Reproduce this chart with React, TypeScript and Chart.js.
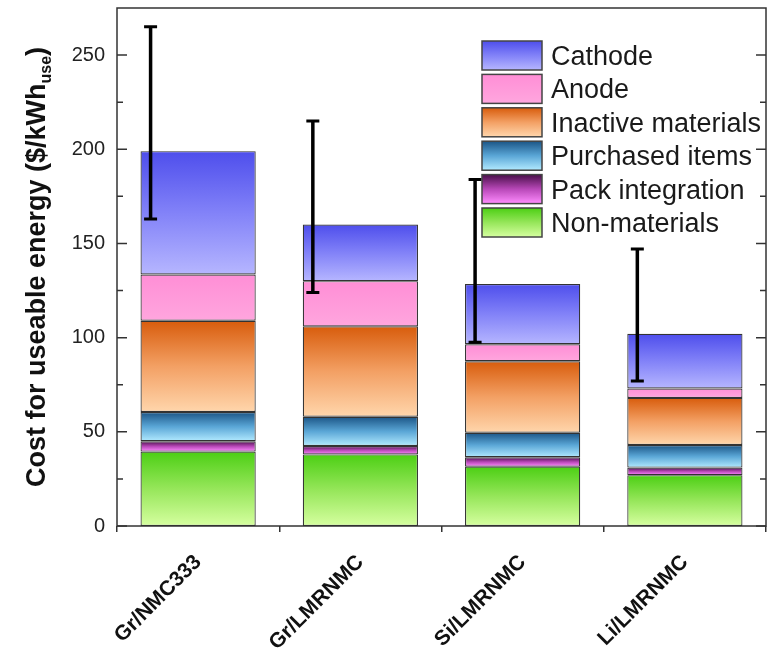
import React, { useEffect, useRef } from 'react';
import { Chart, registerables } from 'chart.js';

Chart.register(...registerables);

// ---------- data ----------
const categories = ['Gr/NMC333', 'Gr/LMRNMC', 'Si/LMRNMC', 'Li/LMRNMC'];
const nonMaterials = [39.5, 38, 31.5, 27];
const packIntegration = [5.5, 4.5, 5, 4];
const purchasedItems = [15.5, 15.5, 13, 12];
const inactiveMaterials = [48.5, 48, 38, 25];
const anode = [24.5, 24, 9, 5];
const cathode = [65.5, 30, 32, 29];
const errLow = [163, 124, 97.5, 77];
const errHigh = [265, 215, 184, 147];
const yTicks = [0, 50, 100, 150, 200, 250];
const yMinorTicks = [25, 75, 125, 175, 225];

// ---------- styles ----------
const FONT = '"Liberation Sans", Arial, Helvetica, sans-serif';
const GRADS: Record<string, string[]> = {
  nonMaterials: ['#4ccf14', '#96e65a', '#d6ffa0'],
  pack: ['#4a0f4a', '#b848b8', '#ff8cff'],
  purchased: ['#1b5586', '#5aa6d6', '#b2eaff'],
  inactive: ['#d85c0c', '#f3a064', '#ffd6ac'],
  anode: ['#ff8ed6', '#ffa6de'],
  cathode: ['#4e4eec', '#8282f8', '#b6b6ff'],
};

function makeGrad(c2d: CanvasRenderingContext2D, y0: number, y1: number, cols: string[]) {
  const g = c2d.createLinearGradient(0, y0, 0, y1);
  cols.forEach((c, k) => g.addColorStop(k / (cols.length - 1), c));
  return g;
}

function bg(key: string) {
  return (ctx: any) => {
    const cols = GRADS[key];
    if (ctx.type !== 'data') return cols[0];
    const chart = ctx.chart;
    const y = chart.scales && chart.scales.y;
    if (!y || !chart.chartArea) return cols[0];
    let start = 0;
    for (let d = 0; d < ctx.datasetIndex; d++) start += chart.data.datasets[d].data[ctx.dataIndex];
    const end = start + chart.data.datasets[ctx.datasetIndex].data[ctx.dataIndex];
    return makeGrad(chart.ctx, y.getPixelForValue(end), y.getPixelForValue(start), cols);
  };
}

const decorPlugin = {
  id: 'decor',
  afterDatasetsDraw(chart: any) {
    const { ctx, scales } = chart;
    const x = scales.x;
    const y = scales.y;
    const catW = x.width / categories.length;
    ctx.save();
    ctx.strokeStyle = '#000';
    ctx.lineCap = 'butt';
    categories.forEach((_, i) => {
      const px = x.getPixelForValue(i) - 0.293 * catW;
      const yt = y.getPixelForValue(errHigh[i]);
      const yb = y.getPixelForValue(errLow[i]);
      ctx.lineWidth = 3.5;
      ctx.beginPath();
      ctx.moveTo(px, yt);
      ctx.lineTo(px, yb);
      ctx.stroke();
      ctx.lineWidth = 3;
      ctx.beginPath();
      ctx.moveTo(px - 6.5, yt);
      ctx.lineTo(px + 6.5, yt);
      ctx.moveTo(px - 6.5, yb);
      ctx.lineTo(px + 6.5, yb);
      ctx.stroke();
    });
    ctx.restore();
  },
  afterDraw(chart: any) {
    const { ctx, chartArea: a, scales } = chart;
    const y = scales.y;
    ctx.save();
    // frame
    ctx.strokeStyle = '#333';
    ctx.lineWidth = 1.5;
    ctx.strokeRect(a.left, a.top, a.right - a.left, a.bottom - a.top);
    // inward ticks
    ctx.beginPath();
    const tick = (v: number, len: number) => {
      const py = y.getPixelForValue(v);
      ctx.moveTo(a.left, py);
      ctx.lineTo(a.left + len, py);
      ctx.moveTo(a.right, py);
      ctx.lineTo(a.right - len, py);
    };
    yTicks.forEach((v) => tick(v, 10));
    yMinorTicks.forEach((v) => tick(v, 6));
    ctx.stroke();

    // y title with subscript
    ctx.translate(36, (a.top + a.bottom) / 2);
    ctx.rotate(-Math.PI / 2);
    ctx.fillStyle = '#111';
    const main = 'Cost for useable energy ($/kWh';
    const sub = 'use';
    const close = ')';
    const mainFont = `bold 27px ${FONT}`;
    const subFont = `bold 16px ${FONT}`;
    ctx.font = mainFont;
    const wMain = ctx.measureText(main).width;
    const wClose = ctx.measureText(close).width;
    ctx.font = subFont;
    const wSub = ctx.measureText(sub).width;
    let x0 = -(wMain + wSub + wClose) / 2;
    ctx.textBaseline = 'alphabetic';
    ctx.textAlign = 'left';
    ctx.font = mainFont;
    ctx.fillText(main, x0, 9);
    x0 += wMain;
    ctx.font = subFont;
    ctx.fillText(sub, x0, 15);
    x0 += wSub;
    ctx.font = mainFont;
    ctx.fillText(close, x0, 9);
    ctx.restore();

    // legend
    ctx.save();
    const ds = chart.data.datasets.slice().reverse();
    const bx = 482;
    const bw = 60;
    const bh = 29;
    const top0 = 41;
    const pitch = 33.4;
    ds.forEach((d: any, k: number) => {
      const by = top0 + k * pitch;
      ctx.fillStyle = makeGrad(ctx, by, by + bh, GRADS[d.gradKey]);
      ctx.fillRect(bx, by, bw, bh);
      ctx.strokeStyle = '#444';
      ctx.lineWidth = 1.5;
      ctx.strokeRect(bx, by, bw, bh);
      ctx.fillStyle = '#1a1a1a';
      ctx.font = `27px ${FONT}`;
      ctx.textAlign = 'left';
      ctx.textBaseline = 'alphabetic';
      ctx.fillText(d.label, bx + 69, by + bh / 2 + 9.5);
    });
    ctx.restore();
  },
};

export default function App() {
  const ref = useRef<HTMLCanvasElement | null>(null);
  useEffect(() => {
    if (!ref.current) return;
    const mk = (label: string, data: number[], gradKey: string) => ({
      label,
      data,
      gradKey,
      backgroundColor: bg(gradKey),
      borderColor: '#333',
      borderWidth: 1.2,
      borderSkipped: false,
      categoryPercentage: 1,
      barPercentage: 0.71,
    });
    const chart = new Chart(ref.current, {
      type: 'bar',
      data: {
        labels: categories,
        datasets: [
          mk('Non-materials', nonMaterials, 'nonMaterials'),
          mk('Pack integration', packIntegration, 'pack'),
          mk('Purchased items', purchasedItems, 'purchased'),
          mk('Inactive materials', inactiveMaterials, 'inactive'),
          mk('Anode', anode, 'anode'),
          mk('Cathode', cathode, 'cathode'),
        ] as any,
      },
      options: {
        animation: false,
        responsive: true,
        maintainAspectRatio: false,
        layout: { padding: { top: 8, right: 10, left: 0, bottom: 0 } },
        plugins: { legend: { display: false }, tooltip: { enabled: false } },
        scales: {
          x: {
            stacked: true,
            afterFit: (s: any) => {
              s.height = 125;
              s.paddingLeft = 0;
              s.paddingRight = 0;
            },
            border: { display: false },
            grid: {
              offset: true,
              drawOnChartArea: false,
              drawTicks: true,
              tickLength: 6,
              color: '#333',
              lineWidth: 1.5,
            },
            ticks: {
              minRotation: 45,
              maxRotation: 45,
              padding: 18,
              color: '#111',
              font: { family: FONT, size: 21, weight: 'bold' },
            },
          },
          y: {
            stacked: true,
            min: 0,
            max: 275,
            afterFit: (s: any) => {
              s.width = 117;
              s.paddingTop = 0;
              s.paddingBottom = 0;
            },
            afterBuildTicks: (s: any) => { s.ticks = yTicks.map((v) => ({ value: v })); },
            border: { display: false },
            grid: { display: false, drawTicks: false },
            ticks: {
              padding: 12,
              color: '#222',
              font: { family: FONT, size: 20 },
            },
          },
        },
      } as any,
      plugins: [decorPlugin],
    });
    return () => chart.destroy();
  }, []);
  return (
    <div style={{ position: 'absolute', left: 0, top: 0, width: 776, height: 651 }}>
      <canvas ref={ref} />
    </div>
  );
}
